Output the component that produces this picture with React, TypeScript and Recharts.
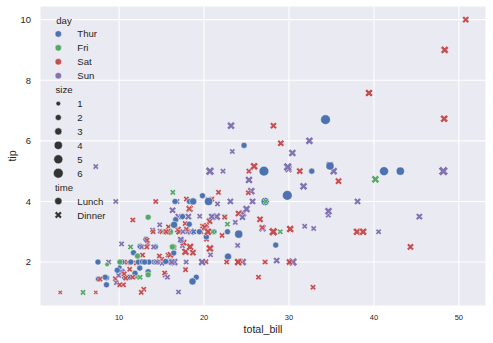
import { ScatterChart, Scatter, XAxis, YAxis, CartesianGrid } from 'recharts'

const FONT = '"Liberation Sans", Arial, Helvetica, sans-serif'
const TEXT = '#262626'

const days = ['Thur', 'Fri', 'Sat', 'Sun']
const dayColors = ['#4C72B0', '#55A868', '#C44E52', '#8172B2']
const times = ['Lunch', 'Dinner']
const sizeLevels = [1, 2, 3, 4, 5, 6]
const xTicks = [10, 20, 30, 40, 50]
const yTicks = [2, 4, 6, 8, 10]

// tips dataset, one entry per table
const totalBill = [
  16.99, 10.34, 21.01, 23.68, 24.59, 25.29, 8.77, 26.88, 15.04, 14.78,
  10.27, 35.26, 15.42, 18.43, 14.83, 21.58, 10.33, 16.29, 16.97, 20.65,
  17.92, 20.29, 15.77, 39.42, 19.82, 17.81, 13.37, 12.69, 21.7, 19.65,
  9.55, 18.35, 15.06, 20.69, 17.78, 24.06, 16.31, 16.93, 18.69, 31.27,
  16.04, 17.46, 13.94, 9.68, 30.4, 18.29, 22.23, 32.4, 28.55, 18.04,
  12.54, 10.29, 34.81, 9.94, 25.56, 19.49, 38.01, 26.41, 11.24, 48.27,
  20.29, 13.81, 11.02, 18.29, 17.59, 20.08, 16.45, 3.07, 20.23, 15.01,
  12.02, 17.07, 26.86, 25.28, 14.73, 10.51, 17.92, 27.2, 22.76, 17.29,
  19.44, 16.66, 10.07, 32.68, 15.98, 34.83, 13.03, 18.28, 24.71, 21.16,
  28.97, 22.49, 5.75, 16.32, 22.75, 40.17, 27.28, 12.03, 21.01, 12.46,
  11.35, 15.38, 44.3, 22.42, 20.92, 15.36, 20.49, 25.21, 18.24, 14.31,
  14.0, 7.25, 38.07, 23.95, 25.71, 17.31, 29.93, 10.65, 12.43, 24.08,
  11.69, 13.42, 14.26, 15.95, 12.48, 29.8, 8.52, 14.52, 11.38, 22.82,
  19.08, 20.27, 11.17, 12.26, 18.26, 8.51, 10.33, 14.15, 16.0, 13.16,
  17.47, 34.3, 41.19, 27.05, 16.43, 8.35, 18.64, 11.87, 9.78, 7.51,
  14.07, 13.13, 17.26, 24.55, 19.77, 29.85, 48.17, 25.0, 13.39, 16.49,
  21.5, 12.66, 16.21, 13.81, 17.51, 24.52, 20.76, 31.71, 10.59, 10.63,
  50.81, 15.81, 7.25, 31.85, 16.82, 32.9, 17.89, 14.48, 9.6, 34.63,
  34.65, 23.33, 45.35, 23.17, 40.55, 20.69, 20.9, 30.46, 18.15, 23.1,
  15.69, 19.81, 28.44, 15.48, 16.58, 7.56, 10.34, 43.11, 13.0, 13.51,
  18.71, 12.74, 13.0, 16.4, 20.53, 16.47, 26.59, 38.73, 24.27, 12.76,
  30.06, 25.89, 48.33, 13.27, 28.17, 12.9, 28.15, 11.59, 7.74, 30.14,
  12.16, 13.42, 8.58, 15.98, 13.42, 16.27, 10.09, 20.45, 13.28, 22.12,
  24.01, 15.69, 11.61, 10.77, 15.53, 10.07, 12.6, 32.83, 35.83, 29.03,
  27.18, 22.67, 17.82, 18.78,
]

const tip = [
  1.01, 1.66, 3.5, 3.31, 3.61, 4.71, 2.0, 3.12, 1.96, 3.23,
  1.71, 5.0, 1.57, 3.0, 3.02, 3.92, 1.67, 3.71, 3.5, 3.35,
  4.08, 2.75, 2.23, 7.58, 3.18, 2.34, 2.0, 2.0, 4.3, 3.0,
  1.45, 2.5, 3.0, 2.45, 3.27, 3.6, 2.0, 3.07, 2.31, 5.0,
  2.24, 2.54, 3.06, 1.32, 5.6, 3.0, 5.0, 6.0, 2.05, 3.0,
  2.5, 2.6, 5.2, 1.56, 4.34, 3.51, 3.0, 1.5, 1.76, 6.73,
  3.21, 2.0, 1.98, 3.76, 2.64, 3.15, 2.47, 1.0, 2.01, 2.09,
  1.97, 3.0, 3.14, 5.0, 2.2, 1.25, 3.08, 4.0, 3.0, 2.71,
  3.0, 3.4, 1.83, 5.0, 2.03, 5.17, 2.0, 4.0, 5.85, 3.0,
  3.0, 3.5, 1.0, 4.3, 3.25, 4.73, 4.0, 1.5, 3.0, 1.5,
  2.5, 3.0, 2.5, 3.48, 4.08, 1.64, 4.06, 4.29, 3.76, 4.0,
  3.0, 1.0, 4.0, 2.55, 4.0, 3.5, 5.07, 1.5, 1.8, 2.92,
  2.31, 1.68, 2.5, 2.0, 2.52, 4.2, 1.48, 2.0, 2.0, 2.18,
  1.5, 2.83, 1.5, 2.0, 3.25, 1.25, 2.0, 2.0, 2.0, 2.75,
  3.5, 6.7, 5.0, 5.0, 2.3, 1.5, 1.36, 1.63, 1.73, 2.0,
  2.5, 2.0, 2.74, 2.0, 2.0, 5.14, 5.0, 3.75, 2.61, 2.0,
  3.5, 2.5, 2.0, 2.0, 3.0, 3.48, 2.24, 4.5, 1.61, 2.0,
  10.0, 3.16, 5.15, 3.18, 4.0, 3.11, 2.0, 2.0, 4.0, 3.55,
  3.68, 5.65, 3.5, 6.5, 3.0, 5.0, 3.5, 2.0, 3.5, 4.0,
  1.5, 4.19, 2.56, 2.02, 4.0, 1.44, 2.0, 5.0, 2.0, 2.0,
  4.0, 2.01, 2.0, 2.5, 4.0, 3.23, 3.41, 3.0, 2.03, 2.23,
  2.0, 5.16, 9.0, 2.5, 6.5, 1.1, 3.0, 1.5, 1.44, 3.09,
  2.2, 3.48, 1.92, 3.0, 1.58, 2.5, 2.0, 3.0, 2.72, 2.88,
  2.0, 3.0, 3.39, 1.47, 3.0, 1.25, 1.0, 1.17, 4.67, 5.92,
  2.0, 2.0, 1.75, 3.0,
]

// index into days
const dayCode = [
  3, 3, 3, 3, 3, 3, 3, 3, 3, 3,
  3, 3, 3, 3, 3, 3, 3, 3, 3, 2,
  2, 2, 2, 2, 2, 2, 2, 2, 2, 2,
  2, 2, 2, 2, 2, 2, 2, 2, 2, 2,
  2, 3, 3, 3, 3, 3, 3, 3, 3, 3,
  3, 3, 3, 3, 3, 3, 2, 2, 2, 2,
  2, 2, 2, 2, 2, 2, 2, 2, 2, 2,
  2, 2, 2, 2, 2, 2, 2, 0, 0, 0,
  0, 0, 0, 0, 0, 0, 0, 0, 0, 0,
  1, 1, 1, 1, 1, 1, 1, 1, 1, 1,
  1, 1, 2, 2, 2, 2, 2, 2, 2, 2,
  2, 2, 3, 3, 3, 3, 3, 0, 0, 0,
  0, 0, 0, 0, 0, 0, 0, 0, 0, 0,
  0, 0, 0, 0, 0, 0, 0, 0, 0, 0,
  0, 0, 0, 0, 0, 0, 0, 0, 0, 0,
  3, 3, 3, 3, 3, 3, 3, 3, 3, 3,
  3, 3, 3, 3, 3, 3, 3, 3, 2, 2,
  2, 2, 3, 3, 3, 3, 3, 3, 3, 3,
  3, 3, 3, 3, 3, 3, 3, 3, 3, 3,
  3, 0, 0, 0, 0, 0, 0, 0, 0, 0,
  0, 0, 0, 0, 0, 0, 2, 2, 2, 2,
  2, 2, 2, 2, 2, 2, 2, 2, 2, 2,
  1, 1, 1, 1, 1, 1, 1, 2, 2, 2,
  2, 2, 2, 2, 2, 2, 2, 2, 2, 2,
  2, 2, 2, 0,
]

// 0 = Lunch, 1 = Dinner
const timeCode = [
  1, 1, 1, 1, 1, 1, 1, 1, 1, 1,
  1, 1, 1, 1, 1, 1, 1, 1, 1, 1,
  1, 1, 1, 1, 1, 1, 1, 1, 1, 1,
  1, 1, 1, 1, 1, 1, 1, 1, 1, 1,
  1, 1, 1, 1, 1, 1, 1, 1, 1, 1,
  1, 1, 1, 1, 1, 1, 1, 1, 1, 1,
  1, 1, 1, 1, 1, 1, 1, 1, 1, 1,
  1, 1, 1, 1, 1, 1, 1, 0, 0, 0,
  0, 0, 0, 0, 0, 0, 0, 0, 0, 0,
  1, 1, 1, 1, 1, 1, 1, 1, 1, 1,
  1, 1, 1, 1, 1, 1, 1, 1, 1, 1,
  1, 1, 1, 1, 1, 1, 1, 0, 0, 0,
  0, 0, 0, 0, 0, 0, 0, 0, 0, 0,
  0, 0, 0, 0, 0, 0, 0, 0, 0, 0,
  0, 0, 0, 0, 0, 0, 0, 0, 0, 0,
  1, 1, 1, 1, 1, 1, 1, 1, 1, 1,
  1, 1, 1, 1, 1, 1, 1, 1, 1, 1,
  1, 1, 1, 1, 1, 1, 1, 1, 1, 1,
  1, 1, 1, 1, 1, 1, 1, 1, 1, 1,
  1, 0, 0, 0, 0, 0, 0, 0, 0, 0,
  0, 0, 0, 0, 0, 0, 1, 1, 1, 1,
  1, 1, 1, 1, 1, 1, 1, 1, 1, 1,
  0, 0, 0, 0, 0, 0, 0, 1, 1, 1,
  1, 1, 1, 1, 1, 1, 1, 1, 1, 1,
  1, 1, 1, 1,
]

const partySize = [
  2, 3, 3, 2, 4, 4, 2, 4, 2, 2,
  2, 4, 2, 4, 2, 2, 3, 3, 3, 3,
  2, 2, 2, 4, 2, 4, 2, 2, 2, 2,
  2, 4, 2, 4, 2, 3, 3, 3, 3, 3,
  3, 2, 2, 2, 4, 2, 2, 4, 3, 2,
  2, 2, 4, 2, 4, 2, 4, 2, 2, 4,
  2, 2, 2, 4, 3, 3, 2, 1, 2, 2,
  2, 3, 2, 2, 2, 2, 2, 4, 2, 2,
  2, 2, 1, 2, 2, 4, 2, 2, 2, 2,
  2, 2, 2, 2, 2, 4, 2, 2, 2, 2,
  2, 2, 3, 2, 2, 2, 2, 2, 2, 2,
  2, 1, 3, 2, 3, 2, 4, 2, 2, 4,
  2, 2, 2, 2, 2, 6, 2, 2, 2, 3,
  2, 2, 2, 2, 2, 2, 2, 2, 2, 2,
  2, 6, 5, 6, 2, 2, 3, 2, 2, 2,
  2, 2, 3, 4, 4, 5, 6, 4, 2, 4,
  4, 2, 3, 2, 2, 3, 2, 4, 2, 2,
  3, 2, 2, 2, 2, 2, 2, 2, 2, 2,
  4, 2, 3, 4, 2, 5, 3, 5, 3, 3,
  2, 2, 2, 2, 2, 2, 2, 4, 2, 2,
  3, 2, 2, 2, 4, 3, 3, 4, 2, 2,
  3, 4, 4, 2, 3, 2, 5, 2, 2, 4,
  2, 2, 1, 3, 2, 2, 2, 4, 2, 2,
  4, 3, 2, 2, 2, 2, 2, 2, 3, 3,
  2, 2, 2, 2,
]

const rows = totalBill.map((bill, i) => ({
  total_bill: bill,
  tip: tip[i],
  day: dayCode[i],
  time: timeCode[i],
  size: partySize[i],
}))

// matplotlib-style 5% padding around the data
function padded(values: number[]) {
  const lo = Math.min(...values)
  const hi = Math.max(...values)
  const pad = (hi - lo) * 0.05
  return [lo - pad, hi + pad]
}

// marker area grows linearly with party size
function diameter(size: number) {
  const dMin = 4.7
  const dMax = 9.8
  const t = (size - 1) / 5
  return Math.sqrt(dMin * dMin + t * (dMax * dMax - dMin * dMin))
}

// filled "X" marker outline, in quarters of the marker size
const CROSS = [
  [-1, -2], [0, -1], [1, -2], [2, -1], [1, 0], [2, 1],
  [1, 2], [0, 1], [-1, 2], [-2, 1], [-1, 0], [-2, -1],
]

function crossPoints(cx: number, cy: number, d: number) {
  return CROSS.map(([x, y]) => `${cx + (x * d) / 4},${cy + (y * d) / 4}`).join(' ')
}

function Mark({ cx, cy, d, fill, time }: any) {
  if (time === 0) {
    return <circle cx={cx} cy={cy} r={d / 2} fill={fill} stroke="#fff" strokeWidth={0.5} />
  }
  return <polygon points={crossPoints(cx, cy, d)} fill={fill} stroke="#fff" strokeWidth={0.5} />
}

function Dot(props: any) {
  const { cx, cy, payload } = props
  if (cx == null || cy == null) return null
  return (
    <Mark
      cx={cx}
      cy={cy}
      d={diameter(payload.size)}
      fill={dayColors[payload.day]}
      time={payload.time}
    />
  )
}

function LegendBox() {
  const step = 13.93
  const top = 20
  const markX = 58.3
  const textX = 77.3
  const items: { title?: string; label?: string; mark?: any }[] = [
    { title: 'day' },
    ...days.map((d, i) => ({ label: d, mark: { d: 6.6, fill: dayColors[i], time: 0 } })),
    { title: 'size' },
    ...sizeLevels.map((s) => ({ label: String(s), mark: { d: diameter(s), fill: '#333333', time: 0 } })),
    { title: 'time' },
    ...times.map((t, i) => ({ label: t, mark: { d: 7.4, fill: '#333333', time: i } })),
  ]
  return (
    <svg
      width={140}
      height={240}
      style={{ position: 'absolute', left: 0, top: 0, pointerEvents: 'none' }}
    >
      {items.map((item, i) => {
        const y = top + i * step
        if (item.title) {
          return (
            <text key={i} x={64} y={y} textAnchor="middle" dominantBaseline="central"
              fontFamily={FONT} fontSize={9.6} fill={TEXT}>
              {item.title}
            </text>
          )
        }
        return (
          <g key={i}>
            <Mark cx={markX} cy={y} {...item.mark} />
            <text x={textX} y={y} dominantBaseline="central" fontFamily={FONT} fontSize={9.6} fill={TEXT}>
              {item.label}
            </text>
          </g>
        )
      })}
    </svg>
  )
}

export default function App() {
  const xDomain = padded(totalBill)
  const yDomain = padded(tip)

  return (
    <div style={{ position: 'absolute', left: 0, top: 0, width: 493, height: 343, background: '#fff' }}>
      <ScatterChart width={493} height={343} margin={{ top: 6, right: 7, bottom: 0, left: 0 }}>
        <CartesianGrid fill="#EAEAF2" stroke="#ffffff" strokeWidth={1.1} />
        <XAxis
          type="number"
          dataKey="total_bill"
          domain={xDomain}
          ticks={xTicks}
          allowDataOverflow
          axisLine={false}
          tickLine={false}
          tickSize={0}
          tickMargin={9}
          height={37}
          tick={{ fontSize: 7.5, fill: TEXT, fontFamily: FONT }}
          label={{
            content: ({ viewBox }: any) => (
              <text x={viewBox.x + viewBox.width / 2} y={333} textAnchor="middle"
                fontFamily={FONT} fontSize={10.6} fill={TEXT}>
                total_bill
              </text>
            ),
          }}
        />
        <YAxis
          type="number"
          dataKey="tip"
          domain={yDomain}
          ticks={yTicks}
          allowDataOverflow
          axisLine={false}
          tickLine={false}
          tickSize={0}
          tickMargin={9}
          width={40}
          tick={{ fontSize: 9.4, fill: TEXT, fontFamily: FONT }}
          label={{
            content: ({ viewBox }: any) => {
              const cy = viewBox.y + viewBox.height / 2
              return (
                <text x={12} y={cy} transform={`rotate(-90 12 ${cy})`} textAnchor="middle"
                  dominantBaseline="central" fontFamily={FONT} fontSize={10.6} fill={TEXT}>
                  tip
                </text>
              )
            },
          }}
        />
        <Scatter data={rows} shape={Dot} isAnimationActive={false} />
      </ScatterChart>
      <LegendBox />
    </div>
  )
}
